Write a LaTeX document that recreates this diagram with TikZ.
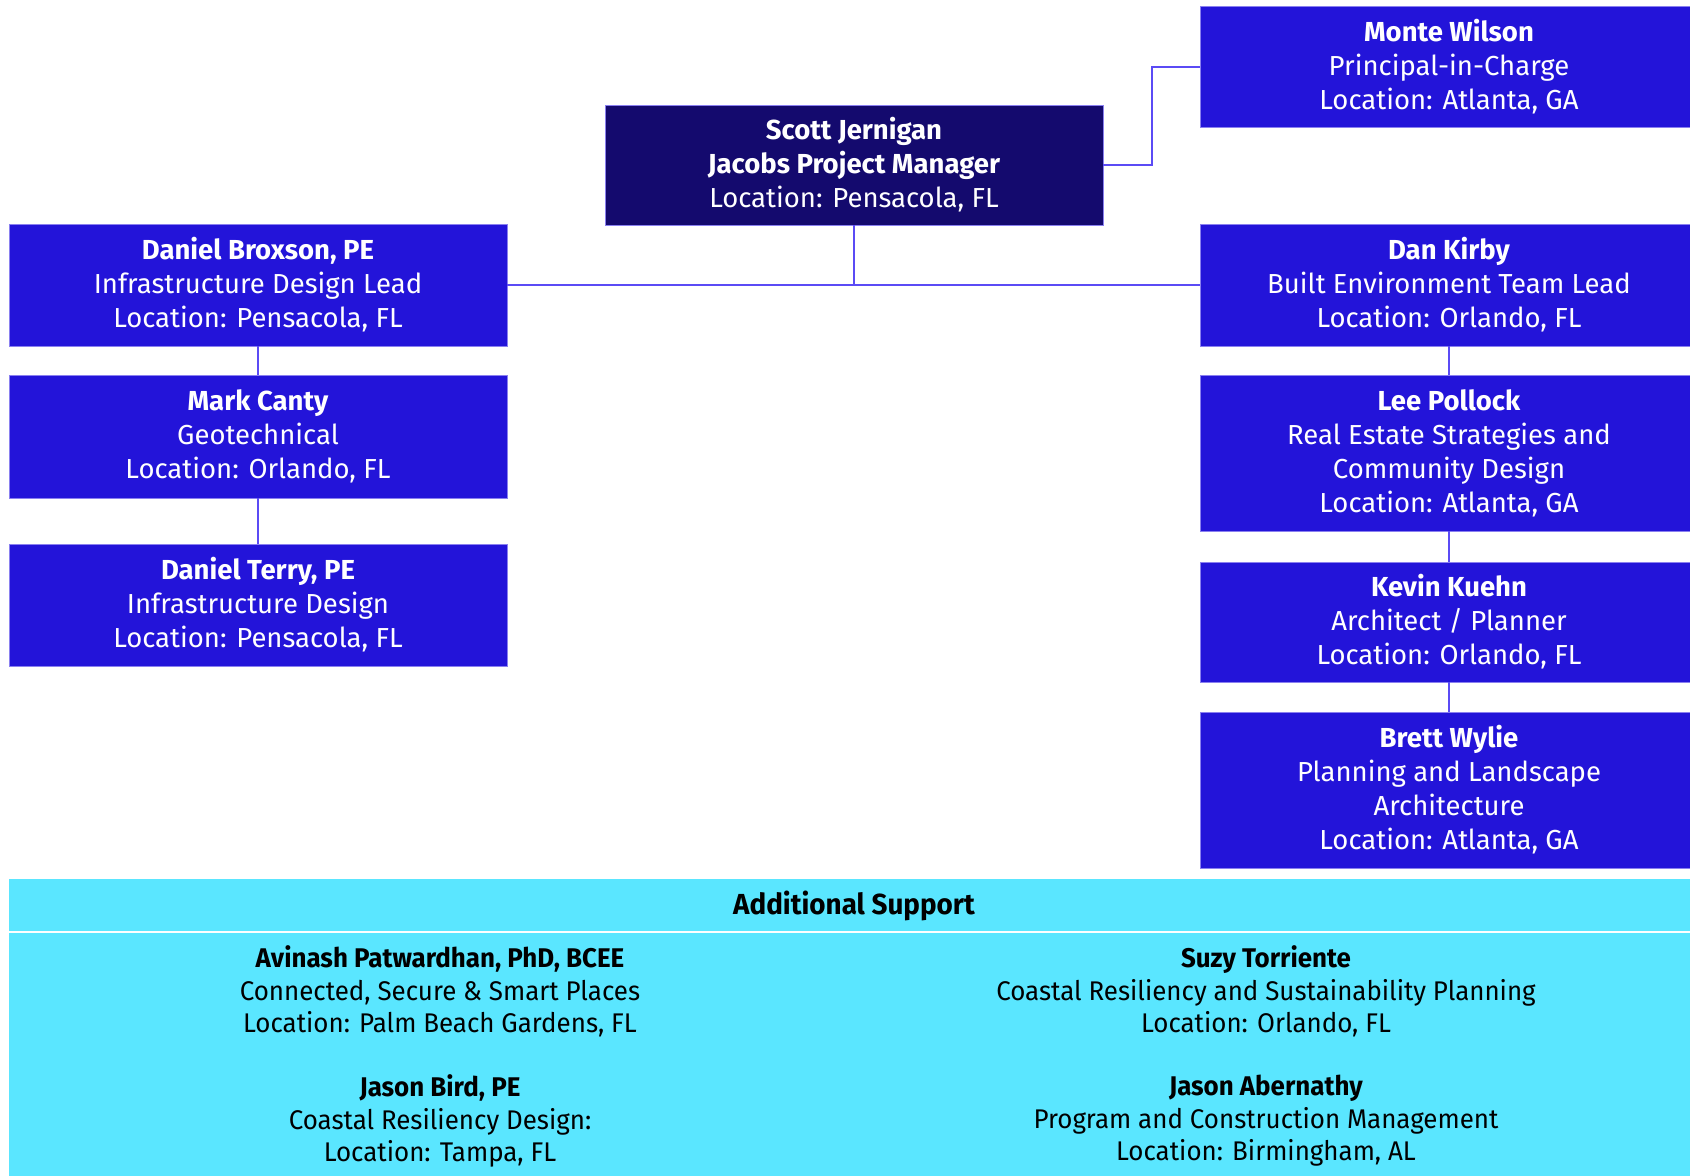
\documentclass[tikz,border=0pt]{standalone}
\usepackage{fontspec}
\setmainfont{Fira Sans}
\newfontfamily\condfont[FakeStretch=0.96]{Fira Sans}
\definecolor{navy}{HTML}{140A6E}
\definecolor{boxblue}{HTML}{2314D9}
\definecolor{linkblue}{HTML}{5B4BF5}
\definecolor{cyanbg}{HTML}{5AE6FF}
\definecolor{edgeblue}{HTML}{8A80F0}
\begin{document}
\begin{tikzpicture}[x=0.5pt,y=-0.5pt,
  person/.style={rectangle, fill=boxblue, draw=edgeblue, line width=0.4pt, text=white,
    minimum width=249pt, inner sep=0pt, align=center,
    font=\fontsize{13.75pt}{17pt}\selectfont},
  lead/.style={person, fill=navy},
  link/.style={draw=linkblue, line width=1pt},
  support/.style={align=center, text=black, font=\condfont\fontsize{13.5pt}{16.25pt}\selectfont}]
\useasboundingbox (0,0) rectangle (1690,1175);

% nodes
\node[lead, minimum height=60pt] (scott) at (854,165) {\textbf{Scott Jernigan}\\\textbf{Jacobs Project Manager}\\Location: Pensacola, FL};
\node[person, minimum height=60.5pt] (monte) at (1449,67) {\textbf{Monte Wilson}\\Principal-in-Charge\\Location: Atlanta, GA};
\node[person, minimum height=61pt] (brox) at (258,285) {\textbf{Daniel Broxson, PE}\\Infrastructure Design Lead\\Location: Pensacola, FL};
\node[person, minimum height=61pt] (kirby) at (1449,285) {\textbf{Dan Kirby}\\Built Environment Team Lead\\Location: Orlando, FL};
\node[person, minimum height=61.5pt] (canty) at (258,436.5) {\textbf{Mark Canty}\\Geotechnical\\Location: Orlando, FL};
\node[person, minimum height=61pt] (terry) at (258,605) {\textbf{Daniel Terry, PE}\\Infrastructure Design\\Location: Pensacola, FL};
\node[person, minimum height=78pt] (pollock) at (1449,453) {\textbf{Lee Pollock}\\Real Estate Strategies and\\Community Design\\Location: Atlanta, GA};
\node[person, minimum height=60pt] (kuehn) at (1449,622) {\textbf{Kevin Kuehn}\\Architect / Planner\\Location: Orlando, FL};
\node[person, minimum height=78pt] (wylie) at (1449,790) {\textbf{Brett Wylie}\\Planning and Landscape\\Architecture\\Location: Atlanta, GA};

% connectors
\coordinate (mj) at (1152,165);
\coordinate (hj) at (854,285);
\draw[link] (scott.east) -- (mj) |- (monte.west);
\draw[link] (scott.south) -- (hj);
\draw[link] (brox.east) -- (kirby.west);
\draw[link] (brox.south) -- (canty.north);
\draw[link] (canty.south) -- (terry.north);
\draw[link] (kirby.south) -- (pollock.north);
\draw[link] (pollock.south) -- (kuehn.north);
\draw[link] (kuehn.south) -- (wylie.north);

% additional support panel
\fill[cyanbg] (9,879) rectangle (1700,1180);
\draw[white, line width=1pt] (9,932) -- (1700,932);
\node[support, font=\condfont\bfseries\fontsize{14.5pt}{16pt}\selectfont] (hdr) at (854,906) {Additional Support};
\node[support] (ap) at (440,991.5) {\textbf{Avinash Patwardhan, PhD, BCEE}\\Connected, Secure \& Smart Places\\Location: Palm Beach Gardens, FL};
\node[support] (st) at (1266,991.5) {\textbf{Suzy Torriente}\\Coastal Resiliency and Sustainability Planning\\Location: Orlando, FL};
\node[support] (jb) at (440,1121) {\textbf{Jason Bird, PE}\\Coastal Resiliency Design:\\Location: Tampa, FL};
\node[support] (ja) at (1266,1121) {\textbf{Jason Abernathy}\\Program and Construction Management\\Location: Birmingham, AL};
\end{tikzpicture}
\end{document}
